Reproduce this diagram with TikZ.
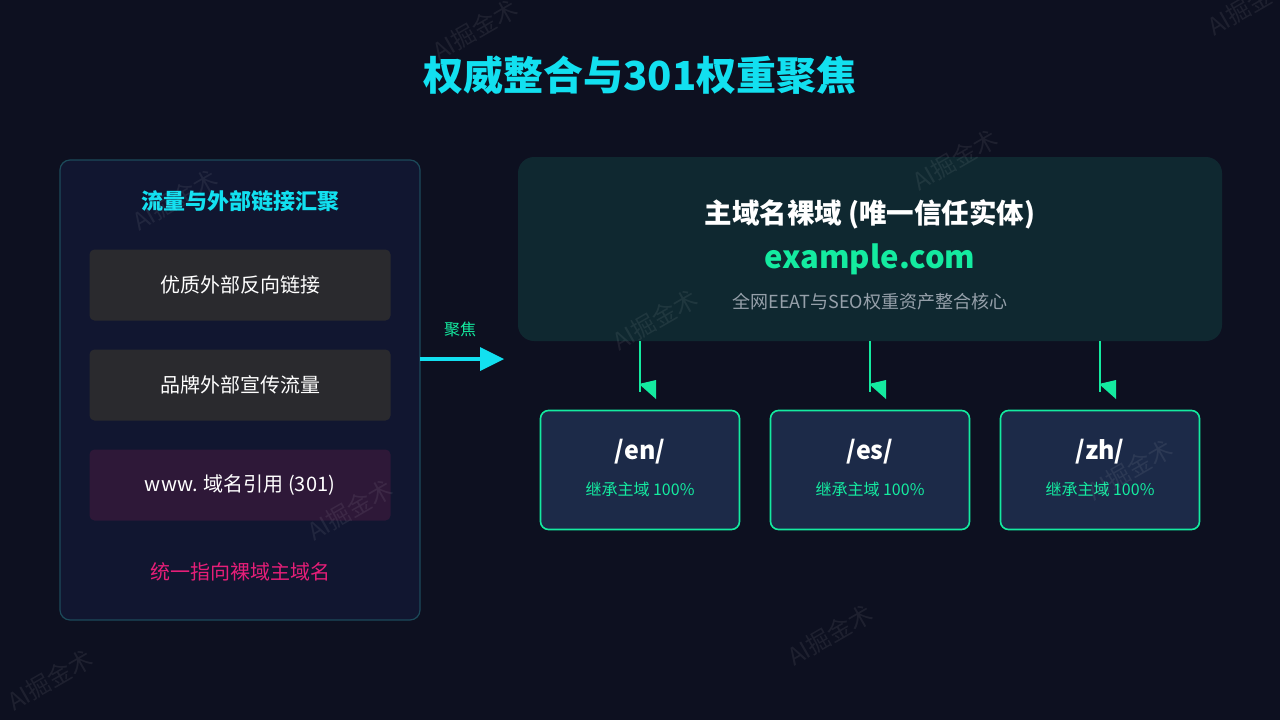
\documentclass[tikz,border=0pt]{standalone}
\usepackage{fontspec}
\setmainfont{Noto Sans CJK SC}
\definecolor{bg}{HTML}{0D1020}
\definecolor{cyan1}{HTML}{12E0F0}
\definecolor{green1}{HTML}{14EBA0}
\definecolor{subfill}{HTML}{1C2A48}
\definecolor{lpfill}{HTML}{111630}
\definecolor{lpdraw}{HTML}{1C4A5A}
\definecolor{itemfill}{HTML}{2A2A2E}
\definecolor{wwwfill}{HTML}{2E1838}
\definecolor{pink1}{HTML}{E61E78}
\definecolor{mainfill}{HTML}{0F2830}
\definecolor{greytxt}{HTML}{96A0AA}
\begin{document}
\begin{tikzpicture}[x=1pt,y=-1pt,
  item/.style={rounded corners=5pt,inner sep=0pt,outer sep=0pt,minimum width=301pt,minimum height=71pt,text=white,font=\fontsize{20}{22}\selectfont},
  sub/.style={draw=green1,fill=subfill,line width=1.6pt,rounded corners=8pt,inner sep=0pt,minimum width=199pt,minimum height=119pt},
  conn/.style={green1,line width=2.2pt},
  wm/.style={text=white,opacity=0.07,rotate=30,font=\fontsize{24}{24}\selectfont}]
\useasboundingbox (0,0) rectangle (1280,720);
\clip (0,0) rectangle (1280,720);
\fill[bg] (0,0) rectangle (1280,720);
\node[text=cyan1,font=\bfseries\fontsize{40}{44}\selectfont] (title) at (640,75) {权威整合与301权重聚焦};
% left panel
\draw[fill=lpfill,draw=lpdraw,line width=1.2pt,rounded corners=10pt] (60,160) rectangle (420,620);
\node[text=cyan1,font=\bfseries\fontsize{22}{24}\selectfont] (lt) at (240,201) {流量与外部链接汇聚};
\node[item,fill=itemfill] (i1) at (240,285) {优质外部反向链接};
\node[item,fill=itemfill] (i2) at (240,385) {品牌外部宣传流量};
\node[item,fill=wwwfill] (i3) at (240,485) {www. 域名引用 (301)};
\node[text=pink1,font=\fontsize{20}{22}\selectfont] (lb) at (240,572) {统一指向裸域主域名};
% focus arrow
\node[text=green1,font=\fontsize{16}{18}\selectfont] (fl) at (460,329) {聚焦};
\coordinate (fa) at (420,359);
\coordinate (fb) at (504,359);
\draw[cyan1,line width=4pt] (fa) -- (484,359);
\fill[cyan1] (480,347) -- (fb) -- (480,371) -- cycle;
% main box
\node[fill=mainfill,rounded corners=16pt,inner sep=0pt,minimum width=704pt,minimum height=184pt] (main) at (870,249) {};
\node[text=white,font=\bfseries\fontsize{27.5}{30}\selectfont] (mt) at (870,214) {主域名裸域 (唯一信任实体)};
\node[text=green1,font=\bfseries\fontsize{31}{36}\selectfont] (md) at (870,259) {example.com};
\node[text=greytxt,font=\fontsize{18}{20}\selectfont] (ms) at (870,302) {全网EEAT与SEO权重资产整合核心};
% sub boxes
\foreach \n/\x in {en/640,es/870,zh/1100}{
  \node[sub] (\n) at (\x,470) {};
  \node[text=white,font=\bfseries\fontsize{25}{28}\selectfont] at (\x,452) {/\n/};
  \node[text=green1,font=\fontsize{16}{18}\selectfont] at (\x,489) {继承主域 100\%};
  \draw[conn] (\x,341) -- (\x,392);
  \fill[green1] (\x-1,384) -- (\x+16,380) -- (\x+16,399) -- cycle;
}
% watermarks
\node[wm] at (475,30) {AI掘金术};
\node[wm] at (175,200) {AI掘金术};
\node[wm] at (955,160) {AI掘金术};
\node[wm] at (655,320) {AI掘金术};
\node[wm] at (350,510) {AI掘金术};
\node[wm] at (1130,470) {AI掘金术};
\node[wm] at (50,680) {AI掘金术};
\node[wm] at (830,635) {AI掘金术};
\node[wm] at (1250,5) {AI掘金术};
\end{tikzpicture}
\end{document}
